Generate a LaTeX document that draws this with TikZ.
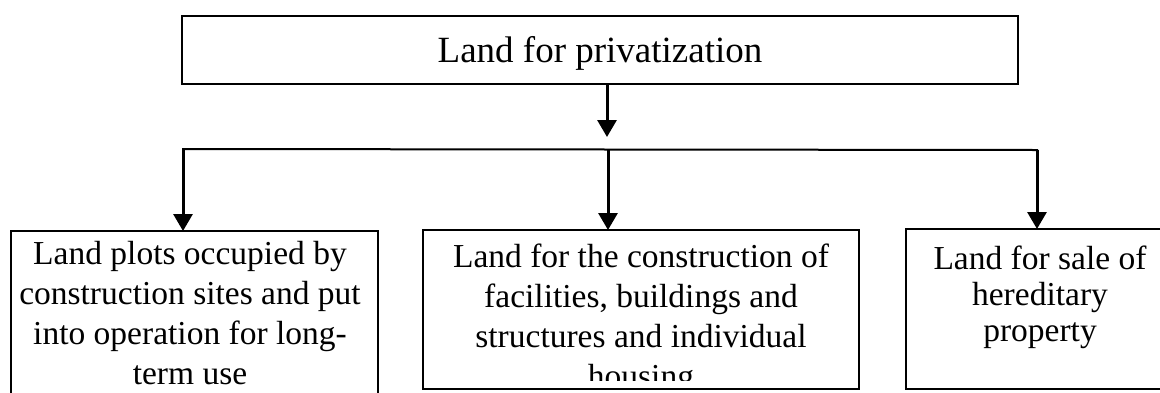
\documentclass[tikz,border=0pt]{standalone}
\usepackage{fontspec}
\setmainfont{Liberation Serif}
\usetikzlibrary{arrows.meta}
\begin{document}
\begin{tikzpicture}[x=1pt,y=-1pt,
  boxframe/.style={draw, line width=2pt, inner sep=0pt, outer sep=0pt},
  txt/.style={align=center, inner sep=0pt, anchor=north, font=\fontsize{33.5}{40}\selectfont},
  link/.style={line width=3pt, -{Triangle[width=19pt,length=17pt]}},
  bus/.style={line width=2pt}]
\useasboundingbox (0,0) rectangle (1160,392);
\clip (0,0) rectangle (1160,392);

% boxes
\node[boxframe, minimum width=836pt, minimum height=68pt] (top) at (600,50) {};
\node[font=\fontsize{37}{44}\selectfont, anchor=base, inner sep=0pt] (toptext) at (600,62) {Land for privatization};

\node[boxframe, minimum width=367pt, minimum height=189pt] (b1) at (194.5,325.5) {};
\node[boxframe, minimum width=436pt, minimum height=159pt] (b2) at (641,309.5) {};
\node[boxframe, minimum width=269pt, minimum height=160pt] (b3) at (1040.5,309) {};

% texts
\node[txt] (t1) at (190,241) {Land plots occupied by\\construction sites and put\\into operation for long-\\term use};
\begin{scope}
\clip (424,231) rectangle (858,380);
\node[txt] (t2) at (641,244) {Land for the construction of\\facilities, buildings and\\structures and individual\\housing};
\end{scope}
\node[txt, font=\fontsize{33.5}{36}\selectfont] (t3) at (1040,246) {Land for sale of\\hereditary\\property};

% connectors
\coordinate (tsrc) at (607,84);
\coordinate (tdst) at (607,137);
\draw[link] (tsrc) -- (tdst);

\coordinate (busL) at (182,149);
\coordinate (busR) at (1038,150);
\draw[bus] (busL) -- (busR);

\coordinate (d1s) at (183,149);
\coordinate (d2s) at (608,149);
\coordinate (d3s) at (1037,150);
\draw[link] (d1s) -- (d1s |- b1.north);
\draw[link] (d2s) -- (d2s |- b2.north);
\draw[link] (d3s) -- (d3s |- b3.north);
\end{tikzpicture}
\end{document}
